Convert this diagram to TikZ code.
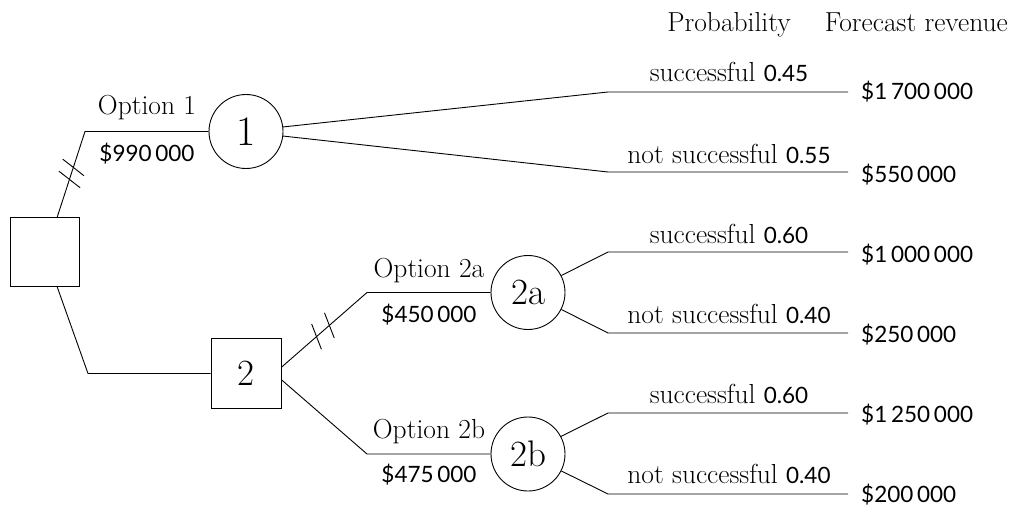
\documentclass[tikz,border=0pt]{standalone}
\usepackage{fontspec}
\newfontfamily\numfont{Lato}
\usetikzlibrary{calc}
\tikzset{
  ln/.style={line width=0.9pt},
  chance/.style={circle, draw, line width=0.9pt, minimum size=74pt, inner sep=0pt, font=\fontsize{37}{40}\selectfont},
  decision/.style={rectangle, draw, line width=0.9pt, minimum size=70pt, inner sep=0pt, font=\fontsize{37}{40}\selectfont},
  lbl/.style={font=\fontsize{27.5}{30}\selectfont, inner sep=0pt, anchor=base},
  money/.style={font=\numfont\fontsize{22.5}{27}\selectfont, inner sep=0pt, anchor=base west},
  hashmark/.style={line width=0.9pt}
}
\newcommand{\pnum}[1]{{\numfont\fontsize{22.5}{27}\selectfont #1}}
\begin{document}
\begin{tikzpicture}[x=1pt,y=-1pt]
\useasboundingbox (0,0) rectangle (1011,508);

% headers
\node[lbl] (hp) at (729,32) {Probability};
\node[lbl, anchor=base east] (hf) at (1008,32) {Forecast revenue};

% decision and chance nodes
\node[decision, minimum size=69pt] (d0) at (44.5,252) {};
\node[chance, font=\fontsize{42}{46}\selectfont] (c1) at (246,131.5) {1};
\node[decision] (d2) at (246,373.5) {2};
\node[chance] (c2a) at (528,292.5) {2a};
\node[chance] (c2b) at (528,454) {2b};

% corner coordinates
\coordinate (k1) at (85,131.5);
\coordinate (k0) at (88,373.5);
\coordinate (k2a) at (367,292.5);
\coordinate (k2b) at (367,454);

% option branches
\draw[ln] (d0.70) -- (k1) -- (c1.west);
\draw[ln] (d0.-70) -- (k0) -- (d2.west);
\draw[ln] (d2.10) -- (k2a) -- (c2a.west);
\draw[ln] (d2.-10) -- (k2b) -- (c2b.west);

% hash marks
\path (d0.70) -- (k1) coordinate[pos=.44] (h1) coordinate[pos=.58] (h2);
\path (d2.10) -- (k2a) coordinate[pos=.41] (h3) coordinate[pos=.56] (h4);
\foreach \h in {h1,h2} \draw[hashmark] ($(\h)!13.5pt!70:(k1)$) -- ($(\h)!13.5pt!-110:(k1)$);
\foreach \h in {h3,h4} \draw[hashmark] ($(\h)!13.5pt!70:(k2a)$) -- ($(\h)!13.5pt!-110:(k2a)$);

% option labels
\node[lbl] (o1) at (147,115) {Option 1};
\node[money, anchor=base] (m1) at (147,161) {\$990\,000};
\node[lbl] (o2a) at (429,277) {Option 2a};
\node[money, anchor=base] (m2a) at (429,322) {\$450\,000};
\node[lbl] (o2b) at (429,438) {Option 2b};
\node[money, anchor=base] (m2b) at (429,482) {\$475\,000};

% outcome branches
\coordinate (a1) at (608,92);   \coordinate (b1) at (848,92);
\coordinate (a2) at (608,172);  \coordinate (b2) at (848,172);
\coordinate (a3) at (608,252);  \coordinate (b3) at (848,252);
\coordinate (a4) at (608,333);  \coordinate (b4) at (848,333);
\coordinate (a5) at (608,413);  \coordinate (b5) at (848,413);
\coordinate (a6) at (608,494);  \coordinate (b6) at (848,494);

\draw[ln] (c1.7) -- (a1) -- (b1);
\draw[ln] (c1.-7) -- (a2) -- (b2);
\draw[ln] (c2a.27) -- (a3) -- (b3);
\draw[ln] (c2a.-27) -- (a4) -- (b4);
\draw[ln] (c2b.28) -- (a5) -- (b5);
\draw[ln] (c2b.-27) -- (a6) -- (b6);

% probability labels
\node[lbl] (p1) at (729,82) {successful \pnum{0.45}};
\node[lbl] (p2) at (729,163) {not successful \pnum{0.55}};
\node[lbl] (p3) at (729,243) {successful \pnum{0.60}};
\node[lbl] (p4) at (729,323) {not successful \pnum{0.40}};
\node[lbl] (p5) at (729,403) {successful \pnum{0.60}};
\node[lbl] (p6) at (729,483) {not successful \pnum{0.40}};

% revenues
\node[money] (r1) at (861,100) {\$1\,700\,000};
\node[money] (r2) at (861,182) {\$550\,000};
\node[money] (r3) at (861,262) {\$1\,000\,000};
\node[money] (r4) at (861,342) {\$250\,000};
\node[money] (r5) at (861,422) {\$1\,250\,000};
\node[money] (r6) at (861,502) {\$200\,000};
\end{tikzpicture}
\end{document}
